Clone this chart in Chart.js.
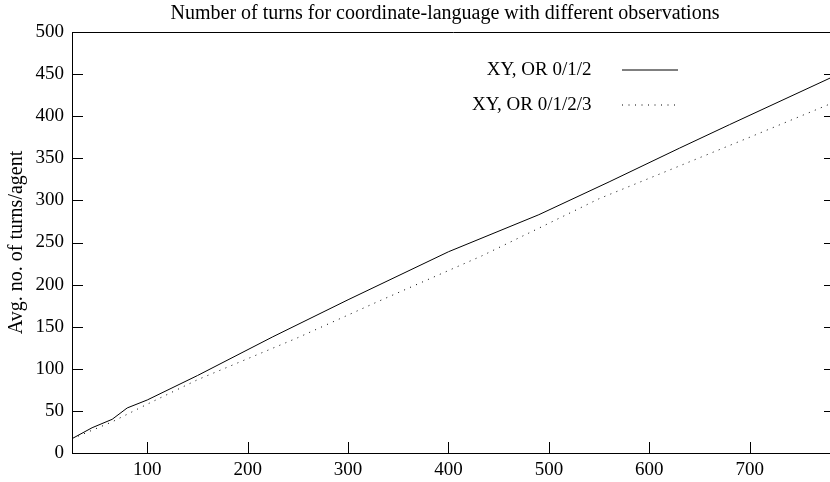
<!DOCTYPE html>
<html>
<head>
<meta charset="utf-8">
<script src="https://cdn.jsdelivr.net/npm/chart.js@4.4.1/dist/chart.umd.min.js"></script>
<style>
  html, body { margin: 0; padding: 0; overflow: hidden; background: #fff; }
  #wrap { width: 890px; height: 482px; }
</style>
</head>
<body>
<div id="wrap"><canvas id="c" width="890" height="482"></canvas></div>
<script>
const titleText = 'Number of turns for coordinate-language with different observations';
const yTitle = 'Avg. no. of turns/agent';
const seriesNames = ['XY, OR 0/1/2', 'XY, OR 0/1/2/3'];

const xSolid  = [25, 45, 65, 80, 100, 150, 225, 300, 400, 490, 560, 630, 680, 785];
const ySolid  = [17, 30, 40, 53.5, 63, 92, 138, 182, 239, 283, 322, 362, 390, 448];

const xDotted = [25, 45, 65, 90, 100, 150, 250, 330, 433, 490, 550, 620, 700, 785];
const yDotted = [17, 27, 37, 52, 58, 87, 137, 180, 234, 267, 302, 336, 375, 417];

const xTicks = [100, 200, 300, 400, 500, 600, 700];
const yTicks = [0, 50, 100, 150, 200, 250, 300, 350, 400, 450, 500];

const FONT = "'Liberation Serif', 'Times New Roman', serif";
Chart.defaults.font.family = FONT;
Chart.defaults.font.size = 19;
Chart.defaults.color = '#000';

const pts = (xs, ys) => xs.map((x, i) => ({ x: x, y: ys[i] }));

const innerTicks = {
  id: 'innerTicks',
  afterDatasetsDraw(chart) {
    const { ctx, chartArea: a, scales: { x, y } } = chart;
    ctx.save();
    ctx.strokeStyle = '#000';
    ctx.lineWidth = 1;
    ctx.beginPath();
    const top = Math.round(a.top) + 0.5;
    ctx.moveTo(a.left, top); ctx.lineTo(a.right, top);
    ctx.moveTo(Math.round(a.right) - 0.5, a.top); ctx.lineTo(Math.round(a.right) - 0.5, a.bottom);
    y.ticks.forEach(t => {
      const py = Math.round(y.getPixelForValue(t.value)) + 0.5;
      ctx.moveTo(a.left, py); ctx.lineTo(a.left + 11, py);
      ctx.moveTo(a.right, py); ctx.lineTo(a.right - 11, py);
    });
    x.ticks.forEach(t => {
      const px = Math.round(x.getPixelForValue(t.value)) + 0.5;
      ctx.moveTo(px, a.bottom); ctx.lineTo(px, a.bottom - 11);
    });
    ctx.stroke();
    ctx.restore();
  }
};

const placeLegend = {
  id: 'placeLegend',
  afterLayout(chart) {
    const lg = chart.legend;
    if (!lg) return;
    const p = lg.options.labels.padding;
    const lineRight = 678;
    lg.left = lineRight + p - lg.width;
    lg.right = lg.left + lg.width;
    lg.top = 60.5 - p;
    lg.bottom = lg.top + 200;
    lg.height = 200;
  }
};

new Chart(document.getElementById('c'), {
  type: 'line',
  data: {
    datasets: [
      {
        label: seriesNames[0],
        data: pts(xSolid, ySolid),
        borderColor: '#000',
        backgroundColor: '#000',
        borderWidth: 1,
        pointRadius: 0,
        pointStyle: 'line',
        tension: 0,
        fill: false
      },
      {
        label: seriesNames[1],
        data: pts(xDotted, yDotted),
        borderColor: '#000',
        backgroundColor: '#000',
        borderWidth: 1,
        borderDash: [1, 5.5],
        pointRadius: 0,
        pointStyle: 'line',
        tension: 0,
        fill: false
      }
    ]
  },
  options: {
    responsive: false,
    animation: false,
    events: [],
    layout: { padding: 0 },
    plugins: {
      title: {
        display: true,
        text: titleText,
        color: '#000',
        font: { family: FONT, size: 20, weight: 'normal', lineHeight: 1.2 },
        padding: { top: 2, bottom: 6 }
      },
      legend: {
        display: true,
        position: 'chartArea',
        align: 'start',
        rtl: true,
        labels: {
          usePointStyle: true,
          pointStyleWidth: 77,
          padding: 16,
          color: '#000',
          font: { family: FONT, size: 19 },
          generateLabels(chart) {
            const items = Chart.defaults.plugins.legend.labels.generateLabels(chart);
            items.forEach((it, i) => {
              if (i === 0) {
                it.lineDash = [0, 21, 56, 200];
              } else {
                const d = [0, 21];
                for (let k = 0; k < 9; k++) { d.push(1, 5.5); }
                d.push(0, 200);
                it.lineDash = d;
              }
              it.lineDashOffset = 0;
            });
            return items;
          }
        }
      },
      tooltip: { enabled: false }
    },
    scales: {
      x: {
        type: 'linear',
        position: 'bottom',
        min: 25,
        max: 785,
        afterBuildTicks: s => { s.ticks = xTicks.map(v => ({ value: v })); },
        afterFit: s => { s.height = 29; },
        grid: { display: false, drawTicks: false },
        border: { display: true, color: '#000', width: 1 },
        ticks: { padding: 6, color: '#000', font: { family: FONT, size: 19 }, maxRotation: 0 }
      },
      y: {
        type: 'linear',
        position: 'left',
        min: 0,
        max: 500,
        afterBuildTicks: s => { s.ticks = yTicks.map(v => ({ value: v })); },
        afterFit: s => { s.width = 72; },
        grid: { display: false, drawTicks: false },
        border: { display: true, color: '#000', width: 1 },
        ticks: { padding: 8, color: '#000', font: { family: FONT, size: 19 } },
        title: {
          display: true,
          text: yTitle,
          color: '#000',
          font: { family: FONT, size: 20, lineHeight: 1.2 },
          padding: { top: 5, bottom: 0 }
        }
      },
      y2: {
        type: 'linear',
        position: 'right',
        display: true,
        afterFit: s => { s.width = 55; },
        grid: { display: false, drawTicks: false },
        border: { display: false },
        ticks: { display: false }
      }
    }
  },
  plugins: [innerTicks, placeLegend]
});
</script>
</body>
</html>
